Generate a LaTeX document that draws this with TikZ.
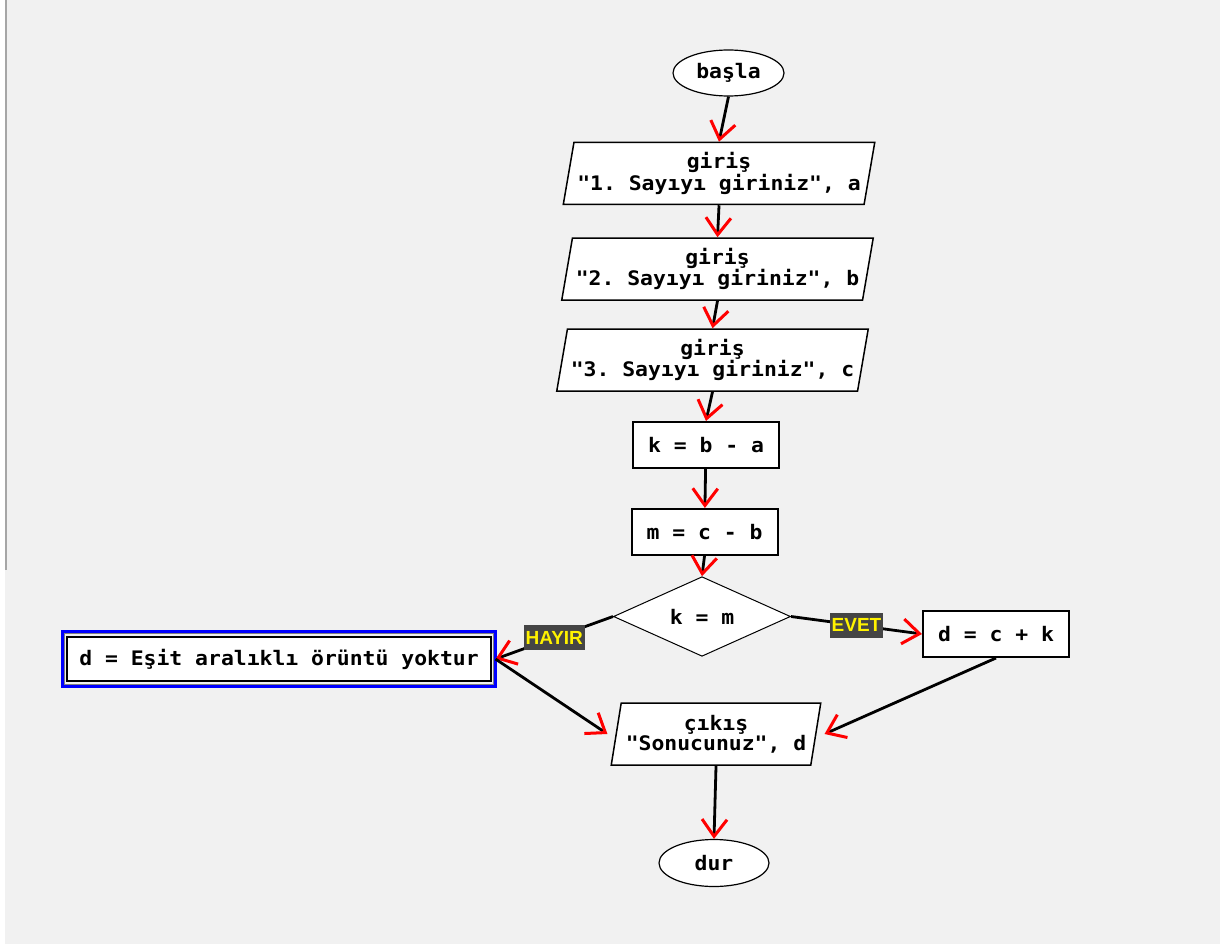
\documentclass[tikz,border=0pt]{standalone}
\usepackage{fontspec}
\setmonofont{DejaVu Sans Mono}[FakeStretch=1.07]
\setsansfont{Liberation Sans}
\usepackage{tikz}
\usetikzlibrary{shapes.geometric, arrows.meta, positioning}
\definecolor{zemin}{HTML}{F1F1F1}
\definecolor{etiketgri}{HTML}{454545}
\definecolor{secmavi}{HTML}{0000FF}
\newcommand{\yazi}{\ttfamily\bfseries\fontsize{20}{20}\selectfont}
\tikzset{
  ucnokta/.style={ draw, ellipse, fill=white, line width=1.2pt, minimum width=111pt, minimum height=46pt, inner sep=0pt }
}
\tikzset{
  giris/.style={ draw, trapezium, trapezium left angle=76, trapezium right angle=104, trapezium stretches=true,
    fill=white, line width=1.5pt, minimum width=312pt, minimum height=62pt, align=center, inner sep=0pt }
}
\tikzset{
  islem/.style={ draw, fill=white, line width=2pt, minimum width=146pt, minimum height=46pt }
}
\tikzset{
  karar/.style={ draw, diamond, fill=white, line width=1pt, minimum width=177pt, minimum height=79pt, inner sep=0pt }
}
\tikzset{
  etiket/.style={ fill=etiketgri, text=yellow, font=\sffamily\bfseries\fontsize{19}{19}\selectfont, inner xsep=2pt, minimum height=25pt }
}
\tikzset{
  ok/.style={ line width=2.8pt, -{Straight Barb[color=red, length=17pt, width=25pt, line width=3pt]} }
}

\begin{document}
\begin{tikzpicture}[x=1pt, y=-1pt, font=\yazi]
      \useasboundingbox (0,0) rectangle (1220,944);
      \fill[white] (0,0) rectangle (1220,944);
      \fill[zemin] (5,0) rectangle (1220,944);
      \draw[gray!70, line width=2pt] (6,0) -- (6,570);

      \node[ucnokta] (basla) at (728.5, 73) {başla};
      \node[giris] (g1) at (719, 173.5) {giriş\\"1. Sayıyı giriniz", a};
      \node[giris] (g2) at (717.5, 269) {giriş\\"2. Sayıyı giriniz", b};
      \node[giris] (g3) at (712.5, 360) {giriş\\"3. Sayıyı giriniz", c};

      \node[islem] (kba) at (706, 445) {k = b - a};
      \node[islem] (mcb) at (704.5, 532) {m = c - b};
      \node[karar] (kara) at (702, 616.5) {k = m};

      \node[islem] (dck) at (996, 634) {d = c + k};
      \node[islem, minimum width=424pt, minimum height=44pt, outer xsep=4.5pt, outer ysep=5.5pt] (yok) at (279, 659) {d = Eşit aralıklı örüntü yoktur};
      \draw[secmavi, line width=3pt] (yok.south west) rectangle (yok.north east);
      \draw[gray, line width=1pt] ([shift={(2pt,2pt)}]yok.south west) rectangle ([shift={(-2pt,-2pt)}]yok.north east);

      \node[giris, minimum width=210pt] (cikis) at (716, 734) {çıkış\\"Sonucunuz", d};
      \node[ucnokta, minimum width=110pt, minimum height=47pt] (dur) at (714, 863) {dur};

      \draw[ok] (basla.south) -- (g1.north);
      \draw[ok] (g1.south) -- (g2.north);
      \draw[ok] (g2.south) -- (g3.north);
      \draw[ok] (g3.south) -- (kba.north);
      \draw[ok] (kba) -- (mcb);
      \draw[ok] (mcb.south) -- (kara.north);
      \draw[ok] (kara.west) -- node[etiket, midway] {HAYIR} (yok.east);
      \draw[ok] (kara.east) -- node[etiket, midway] {EVET} (dck.west);
      \draw[ok] (yok.east) -- ([xshift=-8pt]cikis.west);
      \draw[ok] (dck.south) -- ([xshift=8pt]cikis.east);
      \draw[ok] (cikis.south) -- (dur.north);
    \end{tikzpicture}
\end{document}
